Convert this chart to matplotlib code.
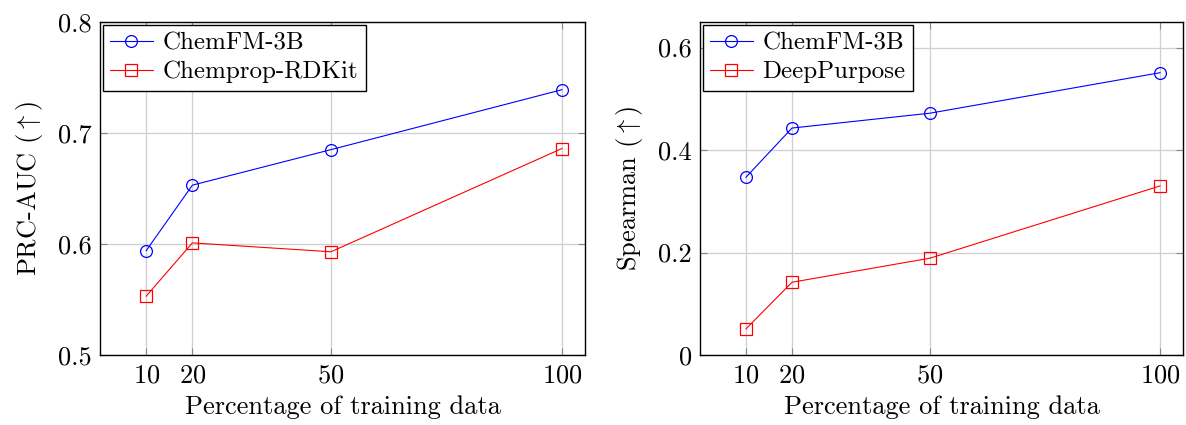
import matplotlib
matplotlib.use("Agg")
import matplotlib.pyplot as plt
from matplotlib.ticker import FuncFormatter

plt.rcParams['font.family'] = ['cmr10', 'DejaVu Serif']
plt.rcParams['mathtext.fontset'] = 'cm'
plt.rcParams['axes.formatter.use_mathtext'] = True

# percentage of training data used
pct = [10, 20, 50, 100]

# PRC-AUC
prc_chemfm = [0.594, 0.653, 0.685, 0.739]
prc_chemprop = [0.553, 0.601, 0.593, 0.686]

# Spearman correlation
sp_chemfm = [0.347, 0.443, 0.472, 0.551]
sp_deeppurpose = [0.051, 0.142, 0.189, 0.330]

fig = plt.figure(figsize=(11.86, 4.25), dpi=100)
ax1 = fig.add_axes([100/1186, 70/425, 485/1186, 333/425])
ax2 = fig.add_axes([700/1186, 70/425, 483/1186, 333/425])


def style(ax, ylab, yticks, ylim):
    ax.set_xlim(0, 105)
    ax.set_ylim(*ylim)
    ax.set_xticks(pct)
    ax.set_yticks(yticks)
    ax.yaxis.set_major_formatter(FuncFormatter(lambda v, p: '%g' % round(v, 2)))
    ax.grid(True, color='#cfcfcf', lw=0.9)
    ax.set_axisbelow(True)
    ax.tick_params(direction='in', length=5, width=0.8, color='#888888',
                   top=True, right=True, labelsize=19, pad=6)
    for s in ax.spines.values():
        s.set_linewidth(1.0)
        s.set_color('black')
    ax.set_xlabel('Percentage of training data', fontsize=19, labelpad=6)
    ax.set_ylabel(ylab, fontsize=19, labelpad=9)


def plot_pair(ax, a, b, la, lb):
    ax.plot(pct, a, color='#0000ff', lw=0.8, marker='o', ms=8.5,
            mfc='none', mew=0.9, label=la)
    ax.plot(pct, b, color='#ff0000', lw=0.8, marker='s', ms=8,
            mfc='none', mew=0.9, label=lb)
    leg = ax.legend(loc='upper left', fontsize=18, fancybox=False,
                    framealpha=1, edgecolor='black', borderaxespad=0.1,
                    handlelength=1.7, handletextpad=0.4, borderpad=0.3,
                    labelspacing=0.25)
    leg.get_frame().set_linewidth(1.0)


plot_pair(ax1, prc_chemfm, prc_chemprop, 'ChemFM-3B', 'Chemprop-RDKit')
style(ax1, r'PRC-AUC $(\uparrow)$', [0.5, 0.6, 0.7, 0.8], (0.5, 0.8))

plot_pair(ax2, sp_chemfm, sp_deeppurpose, 'ChemFM-3B', 'DeepPurpose')
style(ax2, r'Spearman $(\uparrow)$', [0, 0.2, 0.4, 0.6], (0, 0.65))

fig.savefig('out.png', dpi=100)
